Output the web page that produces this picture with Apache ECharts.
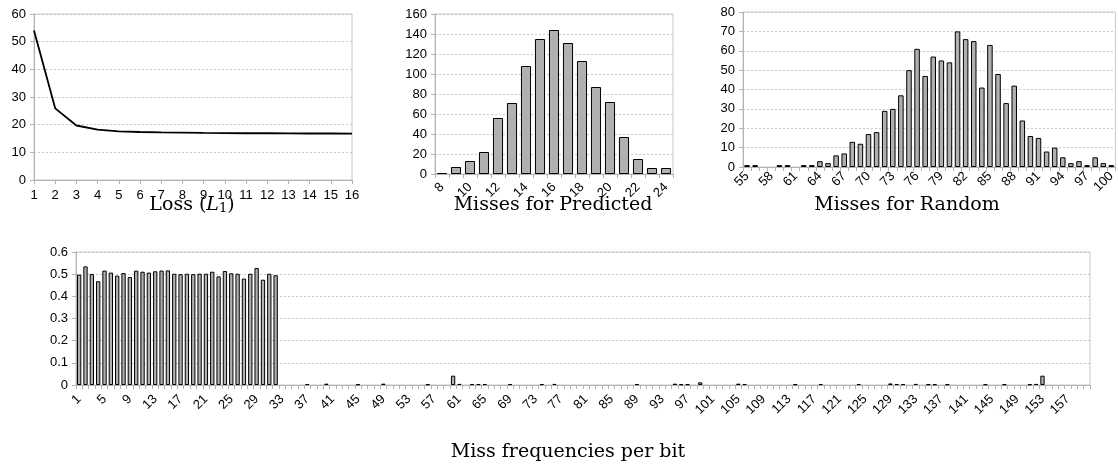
<!DOCTYPE html>
<html>
<head>
<meta charset="utf-8">
<script src="https://cdn.jsdelivr.net/npm/echarts@6/dist/echarts.min.js"></script>
<style>
  html, body { margin: 0; padding: 0; background: #fff; }
  #chart { width: 1118px; height: 464px; }
</style>
</head>
<body>
<div id="chart"></div>
<script>
// loss per epoch
var lossEpochs = ['1', '2', '3', '4', '5', '6', '7', '8', '9', '10', '11', '12', '13', '14', '15', '16'];
var lossValues = [54, 25.9, 19.7, 18.2, 17.6, 17.35, 17.2, 17.1, 17.0, 16.95, 16.9, 16.9, 16.85, 16.8, 16.8, 16.75];

// misses for predicted
var predMisses = ['8', '9', '10', '11', '12', '13', '14', '15', '16', '17', '18', '19', '20', '21', '22', '23', '24'];
var predCounts = [1, 7, 13, 22, 56, 71, 108, 135, 144, 131, 113, 87, 72, 37, 15, 6, 6];

// misses for random (55 .. 100)
var randMisses = [];
for (var m = 55; m <= 100; m++) randMisses.push(String(m));
var randCounts = [
  1, 1, 0, 0, 1, 1, 0, 1, 1, 3,
  2, 6, 7, 13, 12, 17, 18, 29, 30, 37,
  50, 61, 47, 57, 55, 54, 70, 66, 65, 41,
  63, 48, 33, 42, 24, 16, 15, 8, 10, 5,
  2, 3, 1, 5, 2, 1
];

// miss frequency per bit (1 .. 160)
var bits = [];
for (var b = 1; b <= 160; b++) bits.push(String(b));
var bitFreq = [
  0.498, 0.535, 0.501, 0.468, 0.516, 0.507, 0.493, 0.505, 0.487, 0.516,
  0.511, 0.507, 0.513, 0.516, 0.517, 0.502, 0.5, 0.502, 0.5, 0.502,
  0.502, 0.511, 0.49, 0.514, 0.504, 0.502, 0.48, 0.502, 0.528, 0.475,
  0.502, 0.495, 0, 0, 0, 0, 0.004, 0, 0, 0.006,
  0, 0, 0, 0, 0.003, 0, 0, 0, 0.006, 0,
  0, 0, 0, 0, 0, 0.003, 0, 0, 0, 0.042,
  0.005, 0, 0.004, 0.004, 0.004, 0, 0, 0, 0.004, 0,
  0, 0, 0, 0.004, 0, 0.005, 0, 0, 0, 0,
  0, 0, 0, 0, 0, 0, 0, 0, 0.004, 0,
  0, 0, 0, 0, 0.006, 0.003, 0.003, 0, 0.012, 0,
  0, 0, 0, 0, 0.006, 0.004, 0, 0, 0, 0,
  0, 0, 0, 0.003, 0, 0, 0, 0.004, 0, 0,
  0, 0, 0, 0.004, 0, 0, 0, 0, 0.007, 0.004,
  0.004, 0, 0.005, 0, 0.003, 0.003, 0, 0.003, 0, 0,
  0, 0, 0, 0.003, 0, 0, 0.003, 0, 0, 0,
  0.003, 0.005, 0.042, 0, 0, 0, 0, 0, 0, 0
];

var chart = echarts.init(document.getElementById('chart'), null, { renderer: 'canvas' });

var sans = 'Liberation Sans';
var serif = 'DejaVu Serif';
var gray = '#b3b3b3';

function noZero(arr) {
  return arr.map(function (v) { return v === 0 ? '-' : v; });
}

function catAxis(idx, data, labelInterval, rotate, boundary, margin) {
  return {
    type: 'category',
    gridIndex: idx,
    data: data,
    boundaryGap: boundary,
    axisLine: { lineStyle: { color: gray } },
    axisTick: { show: true, interval: 0, length: 4, lineStyle: { color: gray } },
    axisLabel: {
      interval: labelInterval,
      rotate: rotate,
      color: '#000',
      fontFamily: sans,
      fontSize: 13,
      margin: margin
    },
    splitLine: { show: false }
  };
}

function valAxis(idx, max, interval) {
  return {
    type: 'value',
    gridIndex: idx,
    min: 0,
    max: max,
    interval: interval,
    axisLine: { show: true, lineStyle: { color: gray } },
    axisTick: { show: true, length: 4, lineStyle: { color: gray } },
    axisLabel: { color: '#000', fontFamily: sans, fontSize: 13, margin: 8 },
    splitLine: { show: true, lineStyle: { color: '#c8c8c8', type: [2, 2] } }
  };
}

var barStyle = { color: '#b0b0b0', borderColor: '#000', borderWidth: 1 };
var titleFont = '19px "' + serif + '"';

var option = {
  animation: false,
  backgroundColor: '#fff',
  grid: [
    { left: 34, top: 14, width: 318, height: 166, show: true, borderColor: '#c8c8c8', borderWidth: 1 },
    { left: 435, top: 14, width: 238, height: 160, show: true, borderColor: '#c8c8c8', borderWidth: 1 },
    { left: 743, top: 12, width: 381, height: 155, show: true, borderColor: '#c8c8c8', borderWidth: 1 },
    { left: 76, top: 252, width: 1014, height: 133, show: true, borderColor: '#c8c8c8', borderWidth: 1 }
  ],
  xAxis: [
    catAxis(0, lossEpochs, 0, 0, false, 9),
    catAxis(1, predMisses, 1, 45, true, 11),
    catAxis(2, randMisses, 2, 45, true, 7),
    catAxis(3, bits, 3, 45, true, 12)
  ],
  yAxis: [
    valAxis(0, 60, 10),
    valAxis(1, 160, 20),
    valAxis(2, 80, 10),
    valAxis(3, 0.6, 0.1)
  ],
  series: [
    {
      type: 'line',
      xAxisIndex: 0,
      yAxisIndex: 0,
      data: lossValues,
      symbol: 'none',
      lineStyle: { color: '#000', width: 1.8 }
    },
    {
      type: 'bar',
      xAxisIndex: 1,
      yAxisIndex: 1,
      data: noZero(predCounts),
      barCategoryGap: '28%',
      itemStyle: barStyle
    },
    {
      type: 'bar',
      xAxisIndex: 2,
      yAxisIndex: 2,
      data: noZero(randCounts),
      barCategoryGap: '32%',
      itemStyle: barStyle
    },
    {
      type: 'bar',
      xAxisIndex: 3,
      yAxisIndex: 3,
      data: noZero(bitFreq),
      barCategoryGap: '32%',
      itemStyle: barStyle
    }
  ],
  graphic: [
    {
      type: 'text', x: 192, y: 205,
      style: {
        text: 'Loss ({i|L}{s|1})',
        align: 'center', verticalAlign: 'middle',
        font: titleFont, fill: '#000',
        rich: {
          i: { fontFamily: serif, fontSize: 19, fontStyle: 'italic' },
          s: { fontFamily: serif, fontSize: 13, verticalAlign: 'bottom', padding: [8, 0, 0, 0] }
        }
      }
    },
    {
      type: 'text', x: 553, y: 205,
      style: { text: 'Misses for Predicted', align: 'center', verticalAlign: 'middle', font: titleFont, fill: '#000' }
    },
    {
      type: 'text', x: 907, y: 205,
      style: { text: 'Misses for Random', align: 'center', verticalAlign: 'middle', font: titleFont, fill: '#000' }
    },
    {
      type: 'text', x: 568, y: 452,
      style: { text: 'Miss frequencies per bit', align: 'center', verticalAlign: 'middle', font: titleFont, fill: '#000' }
    }
  ]
};

chart.setOption(option);
</script>
</body>
</html>
